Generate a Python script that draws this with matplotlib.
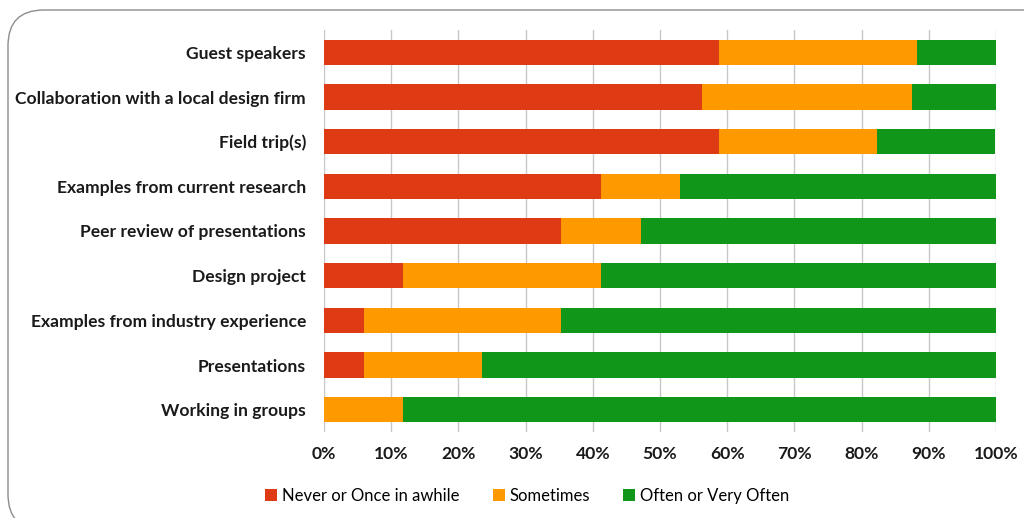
import matplotlib
matplotlib.use("Agg")
import matplotlib.pyplot as plt
from matplotlib.patches import FancyBboxPatch
import numpy as np

categories = ["Guest speakers", "Collaboration with a local design firm", "Field trip(s)",
              "Examples from current research", "Peer review of presentations", "Design project",
              "Examples from industry experience", "Presentations", "Working in groups"]
never = [58.8, 56.25, 58.8, 41.2, 35.3, 11.8, 5.9, 5.9, 0.0]
sometimes = [29.4, 31.25, 23.5, 11.8, 11.8, 29.4, 29.4, 17.6, 11.8]
often = [11.8, 12.5, 17.6, 47.1, 52.9, 58.8, 64.7, 76.5, 88.2]
series_names = ["Never or Once in awhile", "Sometimes", "Often or Very Often"]
colors = ["#DE3A14", "#FF9900", "#109618"]

plt.rcParams['font.family'] = ['Lato', 'DejaVu Sans']
fig = plt.figure(figsize=(10.24, 5.18), dpi=100)
ax = fig.add_axes([324/1024, 1-432/518, (996-324)/1024, (432-30)/518])

y = np.arange(len(categories))
left = np.zeros(len(categories))
for vals, name, c in zip([never, sometimes, often], series_names, colors):
    ax.barh(y, vals, left=left, height=0.56, color=c, label=name, zorder=3)
    left = left + np.array(vals)

ax.set_xlim(0, 100)
ax.set_ylim(len(categories) - 0.5, -0.5)
ax.set_yticks(y)
ax.set_yticklabels(categories, fontsize=12.6, fontweight='bold', color='#1A1A1A')
ax.set_xticks(np.arange(0, 101, 10))
ax.set_xticklabels([f"{v}%" for v in range(0, 101, 10)], fontsize=12.6, fontweight='bold',
                   color='#1A1A1A')
ax.grid(axis='x', color='#C8C8C8', linewidth=1, zorder=0)
for s in ax.spines.values():
    s.set_visible(False)
ax.tick_params(axis='y', length=0, pad=13)
ax.tick_params(axis='x', length=0, pad=10)

fig.legend(loc='center', bbox_to_anchor=(0.515, 1-496/518), ncol=3, frameon=False,
           fontsize=12, handlelength=0.7, handleheight=0.7, handletextpad=0.3, columnspacing=2.0)

border = FancyBboxPatch((8/1024, -12/518), 1100/1024, (508+12)/518,
                        boxstyle="round,pad=0,rounding_size=0.035",
                        transform=fig.transFigure, fill=False, edgecolor='#8C8C8C', linewidth=1,
                        mutation_aspect=1024/518)
fig.patches.append(border)

fig.savefig("out.png", dpi=100)
